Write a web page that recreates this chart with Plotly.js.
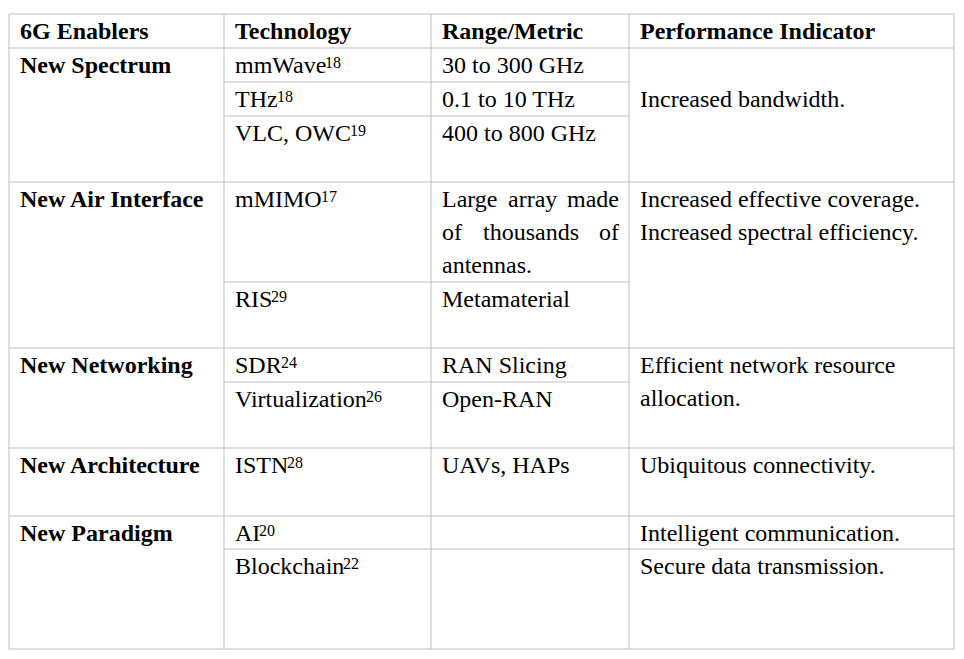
<!DOCTYPE html>
<html>
<head>
<meta charset="utf-8">
<script src="https://cdn.plot.ly/plotly-3.0.1.min.js"></script>
<style>html,body{margin:0;padding:0;background:#fff;}#chart{width:964px;height:659px;}</style>
</head>
<body>
<div id="chart"></div>
<script>
// ---- table content ----
var headers = ["6G Enablers", "Technology", "Range/Metric", "Performance Indicator"];
var enablers = ["New Spectrum", "New Air Interface", "New Networking", "New Architecture", "New Paradigm"];
var groupSizes = [3, 2, 2, 1, 2];
var indicatorMerged = [true, true, true, true, false];
var techNames = ["mmWave", "THz", "VLC, OWC", "mMIMO", "RIS", "SDR", "Virtualization", "ISTN", "AI", "Blockchain"];
var techRefs = ["18", "18", "19", "17", "29", "24", "26", "28", "20", "22"];
var ranges = [["30 to 300 GHz"], ["0.1 to 10 THz"], ["400 to 800 GHz"], ["Large array made", "of thousands of", "antennas."],
  ["Metamaterial"], ["RAN Slicing"], ["Open-RAN"], ["UAVs, HAPs"], [], []];
var indicators = [[], ["Increased bandwidth."], [], ["Increased effective coverage.", "Increased spectral efficiency."], [],
  ["Efficient network resource", "allocation."], [], ["Ubiquitous connectivity."], ["Intelligent communication."], ["Secure data transmission."]];

// ---- layout geometry (pixels) ----
var colX = [9, 224, 431, 629, 954];
var rowY = [48, 82, 116, 182, 282, 348, 382, 448, 516, 549, 649];
var topY = 14;
var padX = 9, firstLine = 17, lineH = 33;
var gridColor = "#bfbfbf";
var fontFam = "Liberation Serif";
var fs = 24, supFs = 16;

var ctx = document.createElement("canvas").getContext("2d");
ctx.font = fs + "px 'Liberation Serif'";

var shapes = [], ann = [];
function hline(y, x0, x1) { shapes.push({type: "line", xref: "x", yref: "y", x0: x0, x1: x1, y0: y, y1: y, line: {color: gridColor, width: 1}}); }
function vline(x, y0, y1) { shapes.push({type: "line", xref: "x", yref: "y", x0: x, x1: x, y0: y0, y1: y1, line: {color: gridColor, width: 1}}); }
function txt(s, x, y, bold, anchor) {
  ann.push({text: bold ? "<b>" + s + "</b>" : s, x: x, y: y, xref: "x", yref: "y", xanchor: anchor || "left", yanchor: "middle",
    showarrow: false, font: {family: fontFam, size: fs, color: "#000"}});
}
function sup(s, x, y) {
  ann.push({text: s, x: x, y: y, xref: "x", yref: "y", xanchor: "left", yanchor: "middle",
    showarrow: false, font: {family: fontFam, size: supFs, color: "#000"}});
}

var bottom = rowY[rowY.length - 1];
colX.forEach(function (x) { vline(x, topY, bottom); });
hline(topY, colX[0], colX[4]);
hline(rowY[0], colX[0], colX[4]);
headers.forEach(function (h, c) { txt(h, colX[c] + padX, topY + firstLine, true); });

var r = 0;
enablers.forEach(function (en, g) {
  var gTop = rowY[r];
  txt(en, colX[0] + padX, gTop + firstLine, true);
  for (var k = 0; k < groupSizes[g]; k++) {
    var rt = rowY[r], rb = rowY[r + 1];
    txt(techNames[r], colX[1] + padX, rt + firstLine, false);
    sup(techRefs[r], colX[1] + padX + ctx.measureText(techNames[r]).width - 1, rt + firstLine - 3);
    var lines = ranges[r];
    lines.forEach(function (ln, i) {
      var y = rt + firstLine + i * lineH;
      if (lines.length > 1 && i < lines.length - 1) {
        var w = ln.split(" ");
        var xl = colX[2] + padX, xr = colX[3] - padX - 3;
        var tot = 0;
        w.forEach(function (word) { tot += ctx.measureText(word).width; });
        var gap = (xr - xl - tot) / (w.length - 1);
        var cx = xl;
        w.forEach(function (word) {
          txt(word, cx, y, false, "left");
          cx += ctx.measureText(word).width + gap;
        });
      } else txt(ln, colX[2] + padX, y, false);
    });
    var ind = indicators[r];
    ind.forEach(function (ln, i) { txt(ln, colX[3] + padX, rt + firstLine + i * lineH, false); });
    r++;
    if (k < groupSizes[g] - 1) hline(rb, colX[1], indicatorMerged[g] ? colX[3] : colX[4]);
    else hline(rb, colX[0], colX[4]);
  }
});

var layout = {
  width: 964, height: 659, margin: {l: 0, r: 0, t: 0, b: 0},
  paper_bgcolor: "#fff", plot_bgcolor: "#fff", showlegend: false,
  xaxis: {range: [0, 964], visible: false, fixedrange: true},
  yaxis: {range: [659, 0], visible: false, fixedrange: true},
  shapes: shapes, annotations: ann
};
Plotly.newPlot("chart", [{x: [], y: [], type: "scatter", mode: "markers", hoverinfo: "skip"}], layout, {staticPlot: true, displayModeBar: false});
</script>
</body>
</html>
